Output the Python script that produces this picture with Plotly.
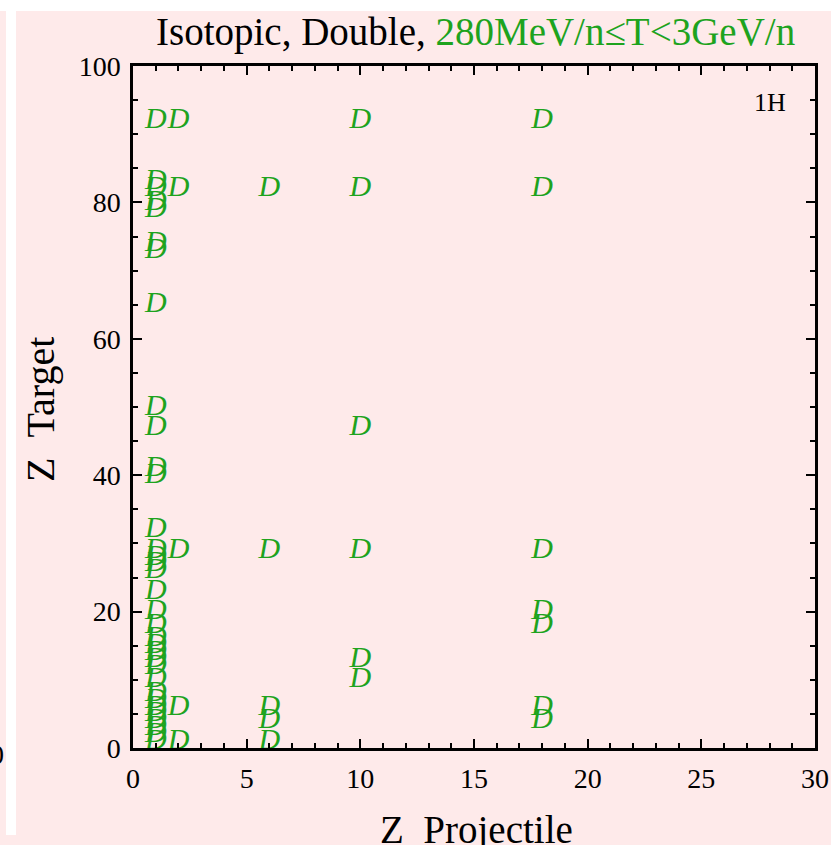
import plotly.graph_objects as go

# Charge numbers of projectile / target pairs with measured double-isotopic cross sections
proj_1_targets = [92, 83, 82, 80, 79, 74, 73, 65, 50, 47, 41, 40, 32, 29, 28, 27, 26,
                  23, 20, 18, 16, 15, 14, 13, 12, 10, 8, 7, 6, 5, 4, 3, 2, 1]
proj_2_targets = [92, 82, 29, 6, 1]
proj_6_targets = [82, 29, 6, 4, 1]
proj_10_targets = [92, 82, 47, 29, 13, 10]
proj_18_targets = [92, 82, 29, 20, 18, 6, 4]

projectiles = [1, 2, 6, 10, 18]
target_lists = [proj_1_targets, proj_2_targets, proj_6_targets,
                proj_10_targets, proj_18_targets]

z_proj = []
z_targ = []
for zp, targets in zip(projectiles, target_lists):
    z_proj += [zp] * len(targets)
    z_targ += targets

GREEN = "#1ea31e"
PINK = "#feeaea"
SERIF = "Liberation Serif, Times New Roman, serif"
PLOT = 682  # side of the square plotting area in px

fig = go.Figure()
fig.add_trace(go.Scatter(
    x=z_proj, y=z_targ, mode="text", text=["D"] * len(z_proj),
    textposition="middle center",
    textfont=dict(family=SERIF, size=30, color=GREEN, style="italic"),
    hoverinfo="x+y", showlegend=False,
))

axis_common = dict(
    showline=True, linecolor="black", linewidth=2.5, mirror="ticks",
    ticks="inside", ticklen=9, tickwidth=2, tickcolor="black",
    showgrid=False, zeroline=False, ticklabelstandoff=4, automargin=False,
    tickfont=dict(family=SERIF, size=28, color="black"),
)

fig.update_xaxes(range=[0, 30], tick0=0, dtick=5,
                 minor=dict(ticks="inside", dtick=1, ticklen=5, tickwidth=1.5, tickcolor="black"),
                 **axis_common)
fig.update_yaxes(range=[0, 100], tick0=0, dtick=20,
                 minor=dict(ticks="inside", dtick=5, ticklen=5, tickwidth=1.5, tickcolor="black"),
                 **axis_common)

fig.update_layout(
    width=831, height=845, autosize=False,
    margin=dict(l=133, r=16, t=66, b=97, autoexpand=False),
    paper_bgcolor=PINK, plot_bgcolor=PINK,
    shapes=[
        dict(type="rect", xref="paper", yref="paper", x0=-1, x1=2,
             y0=1 + 55 / PLOT, y1=2, fillcolor="white", line_width=0, layer="below"),
        dict(type="rect", xref="paper", yref="paper", x0=-127 / PLOT, x1=-117 / PLOT,
             y0=-87 / PLOT, y1=2, fillcolor="white", line_width=0, layer="below"),
    ],
    annotations=[
        dict(text="Isotopic, Double, <span style='color:%s'>280MeV/n\u2264T&lt;3GeV/n</span>" % GREEN,
             xref="paper", yref="paper", x=(475 - 133) / PLOT, y=1 + 34 / PLOT, yanchor="middle",
             showarrow=False, font=dict(family=SERIF, size=39, color="black")),
        dict(text="Z\u00a0\u00a0Projectile", xref="paper", yref="paper", x=(476 - 133) / PLOT,
             y=-82 / PLOT, yanchor="middle", showarrow=False,
             font=dict(family=SERIF, size=39, color="black")),
        dict(text="Z\u00a0\u00a0Target", xref="paper", yref="paper", x=-93 / PLOT,
             y=(748 - 410) / PLOT, xanchor="center", yanchor="middle", textangle=-90,
             showarrow=False, font=dict(family=SERIF, size=40, color="black")),
        dict(text="1H", xref="paper", yref="paper", x=1 - 45 / PLOT, y=1 - 37 / PLOT,
             xanchor="center", yanchor="middle", showarrow=False,
             font=dict(family=SERIF, size=26, color="black")),
        dict(text="0", xref="paper", yref="paper", x=-127 / PLOT, y=-6 / PLOT,
             xanchor="right", yanchor="middle", showarrow=False,
             font=dict(family=SERIF, size=28, color="black")),
    ],
)

fig.write_html("out.html")
